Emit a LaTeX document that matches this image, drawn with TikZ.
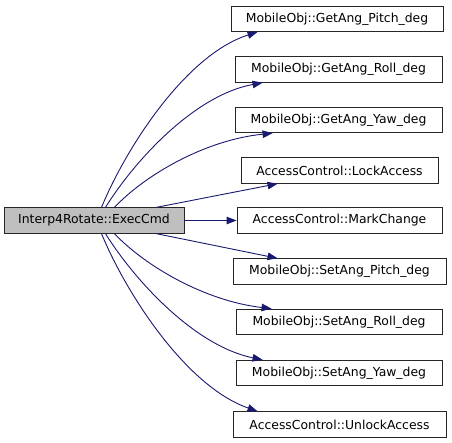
\documentclass[tikz,border=0pt]{standalone}
\usepackage{fontspec}
\setmainfont{DejaVu Sans}
\usetikzlibrary{arrows.meta,calc}
\definecolor{edgeblue}{HTML}{191970}
\definecolor{srcgray}{HTML}{BFBFBF}
\begin{document}
\begin{tikzpicture}[x=1bp,y=-1bp,
  fbox/.style={draw=black!85,line width=0.9bp,fill=white,inner sep=0pt,minimum height=25.5bp,font=\fontsize{12.4bp}{14bp}\selectfont},
  edge/.style={draw=edgeblue,line width=0.9bp,-{Triangle[length=10bp,width=7.5bp]}}]
\useasboundingbox (0,0) rectangle (452,443);
\fill[white] (0,0) rectangle (452,443);
\node[fbox,fill=srcgray,minimum width=180bp] (src) at (94,220.5) {Interp4Rotate::ExecCmd};
\node[fbox,minimum width=212bp] (t1) at (337,18.8) {MobileObj::GetAng\_Pitch\_deg};
\node[fbox,minimum width=207bp] (t2) at (338.5,69.5) {MobileObj::GetAng\_Roll\_deg};
\node[fbox,minimum width=207bp] (t3) at (338.5,120) {MobileObj::GetAng\_Yaw\_deg};
\node[fbox,minimum width=197bp] (t4) at (339.5,170.5) {AccessControl::LockAccess};
\node[fbox,minimum width=205bp] (t5) at (339.5,220.5) {AccessControl::MarkChange};
\node[fbox,minimum width=213bp] (t6) at (339.5,271.5) {MobileObj::SetAng\_Pitch\_deg};
\node[fbox,minimum width=206bp] (t7) at (339,321.8) {MobileObj::SetAng\_Roll\_deg};
\node[fbox,minimum width=206bp] (t8) at (339,373) {MobileObj::SetAng\_Yaw\_deg};
\node[fbox,minimum width=213bp] (t9) at (339.5,424.5) {AccessControl::UnlockAccess};
% upper edges
\draw[edge] ($(src.north west)+(98,0)$) .. controls (125,150) and (185,55) .. ($(t1.south west)+(27,0)$);
\draw[edge] ($(src.north west)+(102,0)$) .. controls (135,160) and (195,95) .. ($(t2.south west)+(28,0)$);
\draw[edge] ($(src.north west)+(111,0)$) .. controls (145,175) and (205,140) .. ($(t3.south west)+(38,0)$);
\draw[edge] ($(src.north west)+(153,0)$) -- ($(t4.south west)+(37,0)$);
\draw[edge] (src.east) -- (t5.west);
% lower edges
\draw[edge] ($(src.south west)+(153,0)$) -- ($(t6.north west)+(45,0)$);
\draw[edge] ($(src.south west)+(111,0)$) .. controls (145,266) and (205,301) .. ($(t7.north west)+(36,0)$);
\draw[edge] ($(src.south west)+(102,0)$) .. controls (135,281) and (195,346) .. ($(t8.north west)+(27,0)$);
\draw[edge] ($(src.south west)+(98,0)$) .. controls (125,291) and (185,386) .. ($(t9.north west)+(25,0)$);
\end{tikzpicture}
\end{document}
